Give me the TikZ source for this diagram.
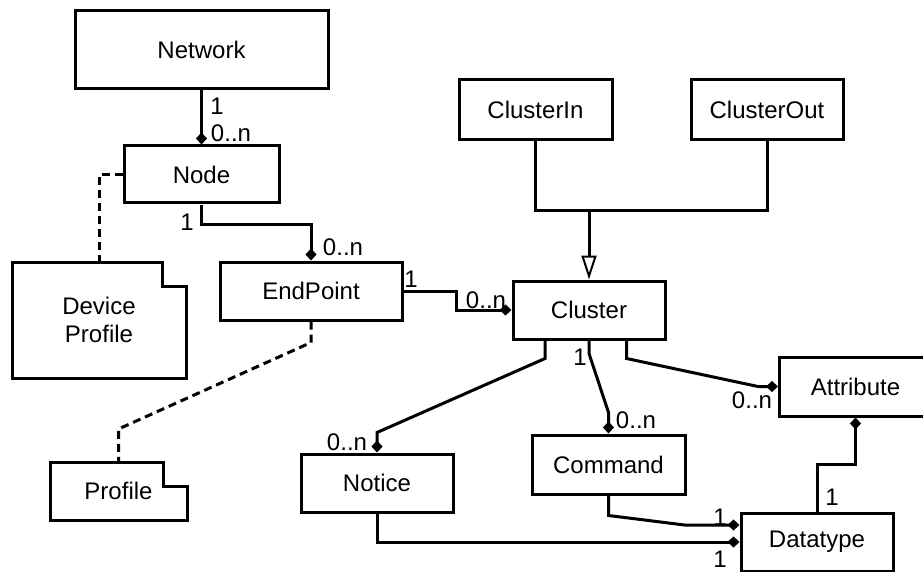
\documentclass[tikz,border=0pt]{standalone}
\usepackage{fontspec}
\setmainfont{Liberation Sans}
\usepackage{tikz}
\usetikzlibrary{arrows.meta}

\newcommand{\drawfolder}[1]{\draw (#1.north west) -- ([xshift=-24pt]#1.north east) -- ([xshift=-24pt,yshift=-24pt]#1.north east) -- ([yshift=-24pt]#1.north east) -- (#1.south east) -- (#1.south west) -- cycle;}

\begin{document}
\begin{tikzpicture}[x=1pt,y=-1pt,line width=3pt,
 every node/.style={font=\fontsize{24}{28}\selectfont,inner sep=0pt},
 box/.style={draw,rectangle,align=center},
 doc/.style={align=center,outer sep=0pt},
 comp/.style={-{Diamond[length=12pt,width=11pt]}},
 dep/.style={dash pattern=on 8pt off 5pt},
 gen/.style={-{Triangle[open,length=24pt,width=15pt,line width=2pt]}}]
 \path[use as bounding box,clip] (0,0) rectangle (923,572);

 \node[box,minimum width=253,minimum height=78] (Nw) at (201.5,50) {Network};
 \node[box,minimum width=155,minimum height=57] (Nd) at (201.5,174.5) {Node};
 \node[box,minimum width=182,minimum height=58] (EP) at (311,291) {EndPoint};
 \node[doc,minimum width=174,minimum height=116] (DP) at (99,320) {Device\\Profile};
 \node[doc,minimum width=137,minimum height=58] (Pf) at (118.5,491) {Profile};
 \node[box,minimum width=153,minimum height=60] (CIn) at (535.5,110) {ClusterIn};
 \node[box,minimum width=152,minimum height=60] (COut) at (767,110) {ClusterOut};
 \node[box,minimum width=152,minimum height=58] (Cl) at (589,310) {Cluster};
 \node[box,minimum width=152,minimum height=58] (Nt) at (377,483) {Notice};
 \node[box,minimum width=153,minimum height=59] (Cmd) at (608.5,464.5) {Command};
 \node[box,minimum width=152,minimum height=59] (Attr) at (855.5,386.5) {Attribute};
 \node[box,minimum width=152,minimum height=58] (Dt) at (817,542) {Datatype};

 \drawfolder{DP}
 \drawfolder{Pf}

 \draw[comp] (Nw.south) -- (Nd.north);
 \draw[comp] (Nd.south) -- ++(0,20) -| (EP.north);
 \draw[dep] (Nd.west) -| (DP.north);
 \draw[dep] (EP.south) -- ++(0,21) -- ([yshift=33pt]Pf.north) -- (Pf.north);
 \draw[comp] (EP.east) -- ++(53,0) |- (Cl.west);
 \draw[comp] ([xshift=-44pt]Cl.south) -- ++(0,18) -- ([yshift=20pt]Nt.north) -- (Nt.north);
 \draw[comp] (Cl.south) -- ++(0,13) -- ([yshift=21pt]Cmd.north) -- (Cmd.north);
 \draw[comp] ([xshift=37.5pt]Cl.south) -- ++(0,18) -- ([xshift=-20pt]Attr.west) -- (Attr.west);
 \draw[comp] (Cmd.south) -- ++(0,20) -- ([xshift=-55pt,yshift=17pt]Dt.west) -- ([yshift=17pt]Dt.west);
 \draw[comp] (Nt.south) |- (Dt.west);
 \draw[comp] (Dt.north) -- ++(0,-47) -| (Attr.south);

 \coordinate (gj) at (589,210);
 \draw (CIn.south) |- (gj) -| (COut.south);
 \draw[gen] (gj) -- (Cl.north);

 \node (m1) at (217,106) {1};
 \node (m2) at (231,133) {0..n};
 \node (m3) at (187,222) {1};
 \node (m4) at (343,247) {0..n};
 \node (m5) at (411,279) {1};
 \node (m6) at (486,300) {0..n};
 \node (m7) at (347,442) {0..n};
 \node (m8) at (580,357) {1};
 \node (m9) at (636,420) {0..n};
 \node (m10) at (752,400) {0..n};
 \node (m11) at (720,517) {1};
 \node (m12) at (720,559) {1};
 \node (m13) at (832,497) {1};
\end{tikzpicture}
\end{document}
